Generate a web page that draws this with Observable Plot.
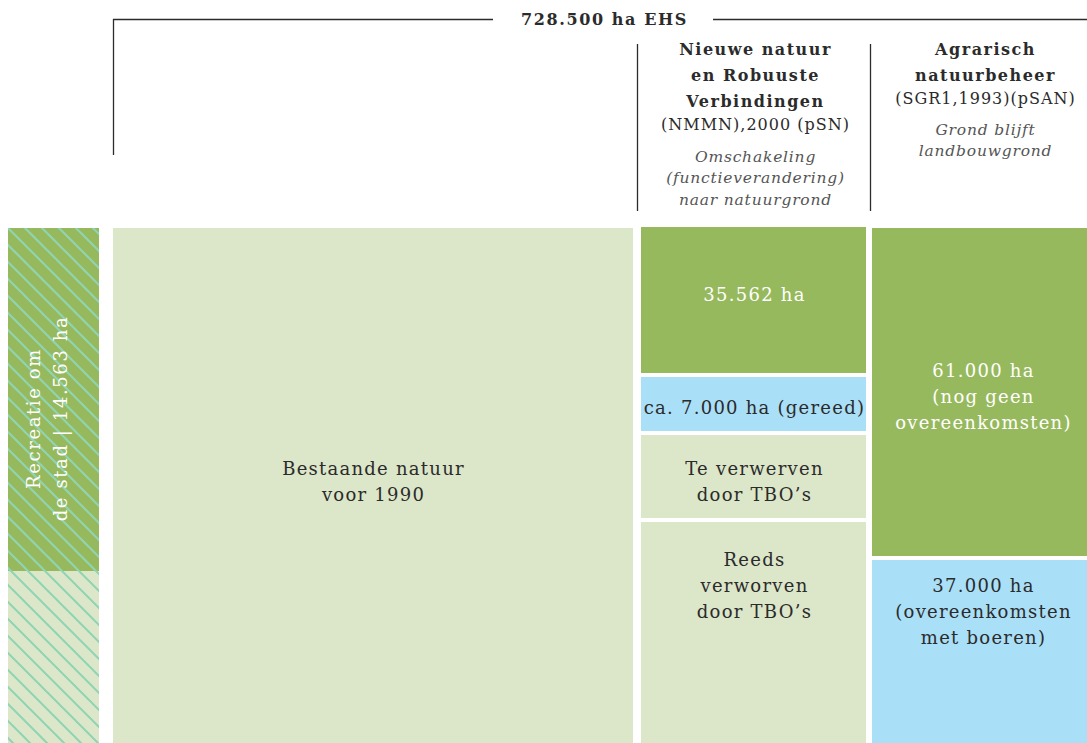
<!DOCTYPE html>
<html><head><meta charset="utf-8">
<script src="https://cdn.jsdelivr.net/npm/d3@7"></script>
<script src="https://cdn.jsdelivr.net/npm/@observablehq/plot@0.6"></script>
<style>body{margin:0;background:#fff} svg{display:block}</style>
</head><body><div id="chart"></div>
<script>
// ---- data ----
const blockNames = ["Recreatie om de stad", "Recreatie om de stad (rest)", "Bestaande natuur voor 1990",
  "Nieuwe natuur – nog te realiseren", "Nieuwe natuur – gereed", "Te verwerven door TBO's",
  "Reeds verworven door TBO's", "Agrarisch – nog geen overeenkomsten", "Agrarisch – overeenkomsten met boeren"];
const blockValues = [14563, null, null, 35562, 7000, null, null, 61000, 37000];
const blockKinds = ["nieuw", "bestaand", "bestaand", "nieuw", "gereed", "bestaand", "bestaand", "nieuw", "gereed"];
const blockLabels = ["Recreatie om\nde stad | 14.563 ha", "", "Bestaande natuur\nvoor 1990",
  "35.562 ha", "ca. 7.000 ha (gereed)", "Te verwerven\ndoor TBO’s",
  "Reeds\nverworven\ndoor TBO’s", "61.000 ha\n(nog geen\novereenkomsten)", "37.000 ha\n(overeenkomsten\nmet boeren)"];
const totalLabel = "728.500 ha EHS";
const headerTitles = ["Nieuwe natuur\nen Robuuste\nVerbindingen", "Agrarisch\nnatuurbeheer"];
const headerCodes = ["(NMMN),2000 (pSN)", "(SGR1,1993)(pSAN)"];
const headerNotes = ["Omschakeling\n(functieverandering)\nnaar natuurgrond", "Grond blijft\nlandbouwgrond"];

// ---- layout (diagram units) ----
const bx1 = [8, 8, 113, 641, 641, 641, 641, 872, 872];
const bx2 = [99, 99, 633, 866, 866, 866, 866, 1087, 1087];
const by1 = [228, 571, 228, 227, 377, 435, 522, 228, 560];
const by2 = [571, 743, 743, 373, 431, 518, 743, 556, 743];
const labelX = [44, 0, 373, 754, 754, 754, 754, 983, 983];
const labelY = [418, 0, 479, 292, 405, 479, 583, 394, 609];

const colors = {nieuw: "#97b95d", bestaand: "#dce6c9", gereed: "#aadff8"};
const blocks = blockNames.map((name, i) => ({
  name, value: blockValues[i], kind: blockKinds[i], label: blockLabels[i],
  x1: bx1[i], x2: bx2[i], y1: by1[i], y2: by2[i], lx: labelX[i], ly: labelY[i]
}));

const font = "'DejaVu Serif', serif";
const dark = "#2b2b2b";

const headerH = [{x1: 113, x2: 493, y: 19}, {x1: 713, x2: 1087, y: 19}];
const headerV = [{x: 113, y1: 19, y2: 155}, {x: 637, y1: 44, y2: 211}, {x: 870, y1: 44, y2: 211}];
const headerCols = [755, 985];
const titleY = [72, 59];
const codeY = [124, 98];
const noteY = [176, 138];

const plot = Plot.plot({
  width: 1087, height: 743,
  margin: 0,
  x: {domain: [0, 1087], range: [0, 1087], axis: null},
  y: {domain: [0, 743], range: [0, 743], axis: null},
  style: {fontFamily: font, background: "#fff"},
  marks: [
    Plot.rect(blocks, {x1: "x1", x2: "x2", y1: "y1", y2: "y2", fill: d => colors[d.kind]}),
    Plot.rect([{x1: 8, x2: 99, y1: 228, y2: 743}], {x1: "x1", x2: "x2", y1: "y1", y2: "y2", fill: "url(#hatch)"}),
    Plot.text(blocks.filter((d, i) => i > 1), {
      x: "lx", y: "ly", text: "label", fontSize: 18, lineHeight: 1.45,
      fill: d => d.kind === "nieuw" ? "#fff" : dark
    }),
    Plot.text([blocks[0]], {
      x: "lx", y: "ly", text: "label", rotate: -90, fontSize: 18, lineHeight: 1.5, fill: "#fff"
    }),
    Plot.ruleY(headerH, {x1: "x1", x2: "x2", y: "y", stroke: dark, strokeWidth: 1.3}),
    Plot.ruleX(headerV, {x: "x", y1: "y1", y2: "y2", stroke: dark, strokeWidth: 1.3}),
    Plot.text([totalLabel], {x: 604, y: 19, text: d => d, fontWeight: "bold", fontSize: 16, fill: dark}),
    Plot.text(headerTitles, {x: (d, i) => headerCols[i], y: (d, i) => titleY[i], text: d => d, fontWeight: "bold", fontSize: 16, lineHeight: 1.62, fill: dark}),
    Plot.text(headerCodes, {x: (d, i) => headerCols[i], y: (d, i) => codeY[i], text: d => d, fontSize: 16, fill: dark}),
    Plot.text(headerNotes, {x: (d, i) => headerCols[i], y: (d, i) => noteY[i], text: d => d, fontSize: 15.5, fontStyle: "italic", lineHeight: 1.37, fill: "#555"})
  ]
});

const svg = plot;
const defs = document.createElementNS("http://www.w3.org/2000/svg", "defs");
defs.innerHTML = `<pattern id="hatch" patternUnits="userSpaceOnUse" width="17" height="17" x="8" y="228">
  <path d="M0,0L17,17M-5,12L5,22M12,-5L22,5" stroke="#8fd4b4" stroke-width="2" fill="none"/></pattern>`;
svg.insertBefore(defs, svg.firstChild);
// letter spacing per text mark (in mark order)
const spacing = [1.25, 1.6, 1.6, 1.5, 1.0, 0.8];
svg.querySelectorAll('g[aria-label="text"]').forEach((g, i) => {
  g.style.letterSpacing = spacing[i] + "px";
});
document.getElementById("chart").appendChild(svg);
</script>
</body></html>
